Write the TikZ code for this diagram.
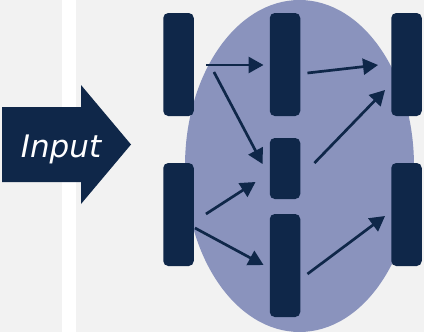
\documentclass[tikz,border=0pt]{standalone}
\usepackage{fontspec}
\newfontfamily\inputfont{DejaVu Sans}
\usetikzlibrary{arrows.meta,calc}
\definecolor{navy}{HTML}{0F2749}
\definecolor{lav}{HTML}{8A93BD}
\definecolor{bg}{HTML}{F2F2F2}
\tikzset{
  bar/.style={fill=navy, draw=none, rounded corners=5pt, inner sep=0pt, minimum width=30.5pt},
  arr/.style={draw=navy, line width=2.7pt, -{Triangle[length=15pt,width=16pt]}}
}
\begin{document}
\begin{tikzpicture}[x=1pt,y=-1pt]
\useasboundingbox (0,0) rectangle (424,332);
\fill[bg] (0,0) rectangle (424,332);
\fill[white] (62,0) rectangle (76,332);
% input arrow
\fill[navy] (2,107) -- (81,107) -- (81,85) -- (131,144.5) -- (81,204) -- (81,182) -- (2,182) -- cycle;
\node[text=white, anchor=base, inner sep=0pt, font=\inputfont\itshape\fontsize{31}{37}\selectfont] (input) at (61,157) {Input};
% ellipse
\fill[lav] (299.5,166) ellipse [x radius=114.5, y radius=166];
% bars
\node[bar, minimum height=103pt] (a1) at (178.5,64.5) {};
\node[bar, minimum height=103pt] (a2) at (178.5,214.5) {};
\node[bar, minimum height=103pt] (b1) at (285,64.5) {};
\node[bar, minimum height=61pt] (b2) at (285,168.5) {};
\node[bar, minimum height=103pt] (b3) at (285,265.5) {};
\node[bar, minimum height=103pt] (c1) at (406.5,64.5) {};
\node[bar, minimum height=103pt] (c2) at (406.5,214.5) {};
% connectors
\draw[arr] ($(a1.east)+(12,0.5)$) -- ($(b1.west)+(-6,0.5)$);
\draw[arr] ($(a1.east)+(20,7.5)$) -- ($(b2.west)+(-7,-4.5)$);
\draw[arr] ($(b1.east)+(7,8.5)$) -- ($(c1.west)+(-13,0.5)$);
\draw[arr] ($(b2.east)+(14,-5.5)$) -- ($(c1.west)+(-6,25.5)$);
\draw[arr] ($(a2.east)+(12,-0.5)$) -- ($(b2.west)+(-14,13.5)$);
\draw[arr] ($(a2.east)+(1,13.5)$) -- ($(b3.west)+(-6,-0.5)$);
\draw[arr] ($(b3.east)+(7,8.5)$) -- ($(c2.west)+(-6,1.5)$);
\end{tikzpicture}
\end{document}
